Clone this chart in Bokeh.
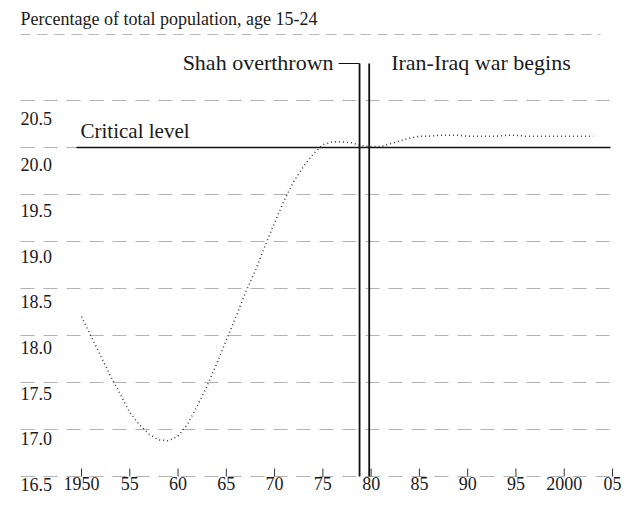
from bokeh.plotting import figure
from bokeh.models import Range1d, LabelSet, ColumnDataSource
from bokeh.embed import file_html
from bokeh.resources import INLINE

# ---- data ----
years = list(range(1950, 2004))
share_15_24 = [18.20, 17.99, 17.78, 17.57, 17.38, 17.18, 17.05, 16.95, 16.89, 16.88,
               16.93, 17.06, 17.25, 17.46, 17.70, 17.95, 18.20, 18.46, 18.69, 18.95,
               19.20, 19.44, 19.64, 19.80, 19.93, 20.03, 20.06, 20.06, 20.05, 20.02,
               20.01, 20.01, 20.04, 20.07, 20.10, 20.12, 20.12, 20.13, 20.13, 20.13,
               20.12, 20.12, 20.12, 20.12, 20.13, 20.13, 20.12, 20.12, 20.12, 20.12,
               20.12, 20.12, 20.12, 20.12]
critical_level = 20.0
critical_label = "Critical level"
event_years = [1978.8, 1979.8]
event_labels = ["Shah overthrown", "Iran-Iraq war begins"]
x_ticks = [1950, 1955, 1960, 1965, 1970, 1975, 1980, 1985, 1990, 1995, 2000, 2005]
x_tick_labels = ["1950", "55", "60", "65", "70", "75", "80", "85", "90", "95", "2000", "05"]
y_ticks = [16.5, 17.0, 17.5, 18.0, 18.5, 19.0, 19.5, 20.0, 20.5]
y_tick_labels = ["16.5", "17.0", "17.5", "18.0", "18.5", "19.0", "19.5", "20.0", "20.5"]
title_text = "Percentage of total population, age 15-24"

# ---- layout constants ----
SERIF = "Liberation Serif"
INK = "#1a1a1a"
W, H = 628, 504
PX_X = 1 / 9.6545          # years per pixel
PX_Y = 1 / 94.0            # percentage points per pixel
X0 = 1950 - 81 * PX_X
X1 = X0 + W * PX_X
Y0 = 16.5 - (H - 476) * PX_Y
Y1 = 16.5 + 476 * PX_Y
BASE = y_ticks[0]
GRID_L, GRID_R = X0 + 20 * PX_X, X0 + 614 * PX_X
TOP_RULE = BASE + (476 - 34) * PX_Y
EVENT_TOP = BASE + (476 - 63) * PX_Y


def text_set(xs, ys, texts, size, align="left", dx=0, dy=0):
    src = ColumnDataSource(dict(x=xs, y=ys, t=texts, dy=dy if isinstance(dy, list) else [dy] * len(xs)))
    return LabelSet(x="x", y="y", text="t", source=src, x_offset=dx, y_offset="dy",
                    text_font=SERIF, text_font_size=size, text_color=INK,
                    text_align=align, text_baseline="alphabetic")


p = figure(width=W, height=H, x_range=Range1d(X0, X1), y_range=Range1d(Y0, Y1),
           output_backend="svg", toolbar_location=None,
           x_axis_location=None, y_axis_location=None,
           min_border_left=0, min_border_right=0, min_border_top=0, min_border_bottom=0)
p.outline_line_color = None
p.background_fill_color = "white"
p.border_fill_color = "white"
p.xgrid.visible = False
p.ygrid.visible = False

# horizontal grid lines (faint, broken) and base line
n_y = len(y_ticks)
p.segment(x0=[GRID_L] * n_y, y0=y_ticks, x1=[GRID_R] * n_y, y1=y_ticks,
          line_color="#b3b3b3", line_dash="14 9", line_width=1)
p.segment(x0=[GRID_L], y0=[TOP_RULE], x1=[X0 + 600 * PX_X], y1=[TOP_RULE],
          line_color="#b8b8b8", line_dash="10 7", line_width=1)

# x ticks (pointing up from base line)
n_x = len(x_ticks)
p.segment(x0=x_ticks, y0=[BASE] * n_x, x1=x_ticks, y1=[BASE + 8 * PX_Y] * n_x,
          line_color="#333333", line_width=1)

# x tick labels
p.add_layout(text_set(x_ticks, [BASE] * n_x, x_tick_labels, "18px", align="center", dy=-13))

# y tick labels, hanging below their grid lines
y_label_dy = [-(14.5 + (v - BASE) * 2.6) for v in y_ticks]
p.add_layout(text_set([GRID_L] * n_y, y_ticks, y_tick_labels, "18px", dy=y_label_dy))

# title
p.add_layout(text_set([GRID_L], [TOP_RULE], [title_text], "18px", dy=10))

# critical level
p.line([X0 + 76 * PX_X, X0 + 610 * PX_X], [critical_level, critical_level],
       line_color="#111111", line_width=1.6)
p.add_layout(text_set([X0 + 80 * PX_X], [critical_level], [critical_label], "21px", dy=10))

# data curve (dotted)
p.line(years, share_15_24, line_color="#3a3a3a", line_width=1.5, line_dash="1 3")

# event lines
n_e = len(event_years)
p.segment(x0=event_years, y0=[BASE] * n_e, x1=event_years, y1=[EVENT_TOP] * n_e,
          line_color="#111111", line_width=1.8)
p.segment(x0=[event_years[0] - 21 * PX_X], y0=[EVENT_TOP], x1=[event_years[0]], y1=[EVENT_TOP],
          line_color="#111111", line_width=1.2)
p.add_layout(text_set([event_years[0]], [EVENT_TOP], [event_labels[0]], "22px",
                      align="right", dx=-26, dy=-6))
p.add_layout(text_set([event_years[1]], [EVENT_TOP], [event_labels[1]], "22px",
                      align="left", dx=22, dy=-6))

open("out.html", "w").write(file_html(p, INLINE))
